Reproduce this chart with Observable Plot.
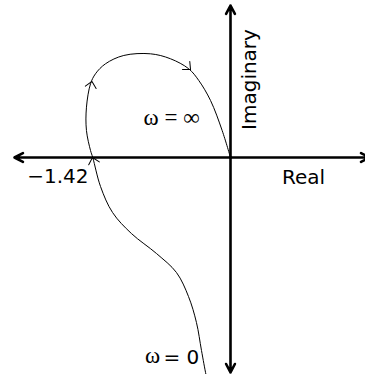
<!DOCTYPE html>
<html><head><meta charset="utf-8">
<script src="https://cdn.jsdelivr.net/npm/d3@7"></script>
<script src="https://cdn.jsdelivr.net/npm/@observablehq/plot@0.6"></script>
<style>html,body{margin:0;padding:0;background:#fff} svg{display:block}</style>
</head><body><div id="chart"></div>
<script>
// Nyquist curve, from ω = 0 (bottom) to ω = ∞ (origin)
const curveRe = [-0.240, -0.253, -0.299, -0.351, -0.433, -0.557, -0.763, -1.021, -1.216, -1.340, -1.420, -1.443, -1.485, -1.485, -1.443, -1.392, -1.289, -1.100, -0.825, -0.619, -0.430, -0.327, -0.206, -0.086, 0];
const curveIm = [-2.290, -2.237, -1.990, -1.701, -1.433, -1.186, -0.990, -0.784, -0.567, -0.299, 0, 0.072, 0.278, 0.519, 0.760, 0.863, 0.966, 1.052, 1.069, 1.018, 0.914, 0.794, 0.588, 0.278, 0];

// direction arrowheads on the curve
const arrowRe = [-0.412, -1.428, -1.423];
const arrowIm = [0.907, 0.784, 0.0];
const arrowAngle = [132, 12, -15];

// axis arrow tips (from the origin)
const axisRe = [-2.227, 1.433, 0, 0];
const axisIm = [0, 0, 1.567, -2.216];

// labels
const labelText = ["Imaginary", "Real", "\u22121.42", "\u03c9 = \u221e", "\u03c9", "= 0"];
const labelRe = [0.192, 0.753, -1.464, -0.608, -0.804, -0.691];
const labelIm = [0.804, -0.202, -0.192, 0.406, -2.047, -2.058];
const labelAnchor = ["middle", "middle", "end", "middle", "middle", "start"];
const labelRotate = [-90, 0, 0, 0, 0, 0];
const labelFont = ["DejaVu Sans", "DejaVu Sans", "DejaVu Sans", "Liberation Serif", "Liberation Serif", "DejaVu Sans"];
const labelSize = [20, 20, 20, 23, 23, 20];

const curveIdx = d3.range(curveRe.length);
const arrowIdx = d3.range(arrowRe.length);
const axisIdx = d3.range(axisRe.length);

const chevron = {
  draw(ctx, l, r) {
    ctx.moveTo(-5.5, 6);
    ctx.lineTo(0, 0);
    ctx.lineTo(5.5, 6);
  }
};

const labelMarks = labelText.map((t, i) => Plot.text([t], {
  x: () => labelRe[i], y: () => labelIm[i], text: d => d,
  textAnchor: labelAnchor[i], rotate: labelRotate[i],
  fontFamily: labelFont[i], fontSize: labelSize[i], fill: "black"
}));

const chart = Plot.plot({
  width: 365, height: 374,
  marginTop: 0, marginBottom: 0, marginLeft: 0, marginRight: 0,
  x: {domain: [-230/97, 135/97], axis: null},
  y: {domain: [-217/97, 157/97], axis: null},
  style: {background: "white"},
  marks: [
    Plot.arrow(axisIdx, {
      x1: () => 0, y1: () => 0, x2: i => axisRe[i], y2: i => axisIm[i],
      stroke: "black", strokeWidth: 2.6, headLength: 5.5, headAngle: 55
    }),
    Plot.line(curveIdx, {x: i => curveRe[i], y: i => curveIm[i], curve: "catmull-rom", stroke: "black", strokeWidth: 1}),
    Plot.vector(arrowIdx, {
      x: i => arrowRe[i], y: i => arrowIm[i], rotate: i => arrowAngle[i],
      length: 1, anchor: "start", shape: chevron, stroke: "black", strokeWidth: 1
    }),
    ...labelMarks
  ]
});
document.getElementById("chart").append(chart);
</script>
</body></html>
